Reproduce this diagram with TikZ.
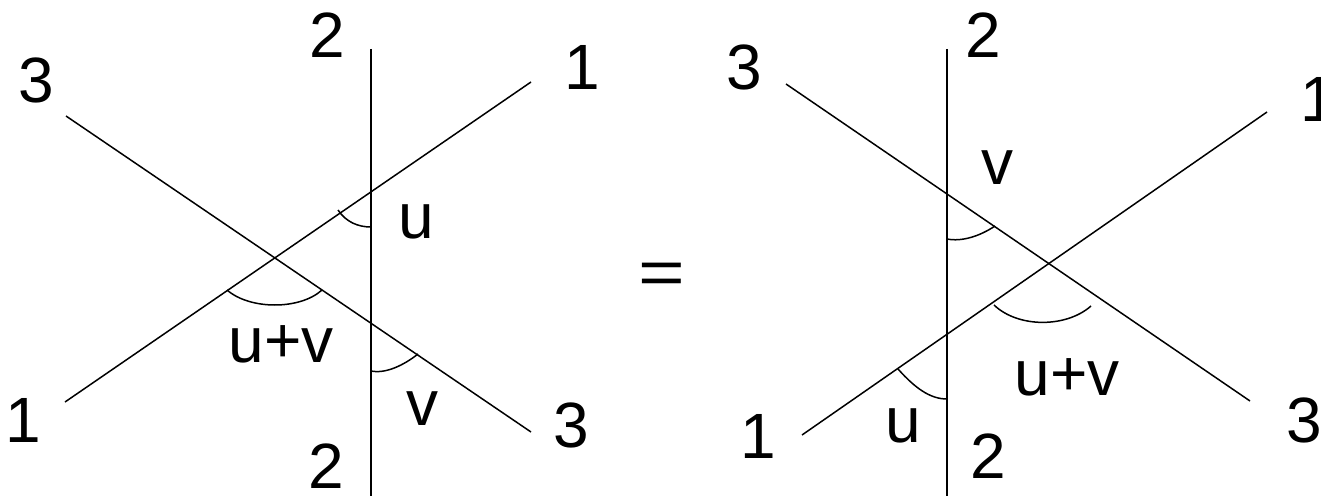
\documentclass[tikz,border=0pt]{standalone}
\usepackage{fontspec}
\setmainfont{Liberation Sans}
\begin{document}
\begin{tikzpicture}[x=1pt,y=1pt,
  ln/.style={line width=1.5pt},
  ang/.style={line width=1.5pt},
  lbl/.style={inner sep=0pt,anchor=base,font=\fontsize{64}{76}\selectfont}]
\useasboundingbox (0,0) rectangle (1321,496);
% ---------- left diagram ----------
\coordinate (LvT) at (371,447);
\coordinate (LvB) at (371,0);
\coordinate (L1a) at (65,94);
\coordinate (L1b) at (531,414);
\coordinate (L3a) at (66,380);
\coordinate (L3b) at (531,64);
\draw[ln] (LvT) -- (LvB);
\draw[ln] (L1a) -- (L1b);
\draw[ln] (L3a) -- (L3b);
% angles
\draw[ang] (338,286) .. controls (346,274) and (358,269) .. (371,269);
\draw[ang] (227,206) .. controls (250,186) and (300,186) .. (322,206);
\draw[ang] (371,125) .. controls (386,122) and (404,131) .. (418,142);
% labels
\node[lbl] (l2t) at (327,438) {2};
\node[lbl] (l3t) at (36,393) {3};
\node[lbl] (l1t) at (582,406) {1};
\node[lbl] (l1b) at (23,54) {1};
\node[lbl] (l3b) at (571,49) {3};
\node[lbl] (l2b) at (326,8) {2};
\node[lbl] (lu) at (416,258) {u};
\node[lbl] (luv) at (281,134) {u+v};
\node[lbl] (lv) at (422,71) {v};
% equals
\node[inner sep=0pt,xscale=1.25,font=\fontsize{64}{76}\selectfont] (eq) at (661.5,217.5) {=};
% ---------- right diagram ----------
\coordinate (RvT) at (947,447);
\coordinate (RvB) at (947,0);
\coordinate (R3a) at (786,412);
\coordinate (R3b) at (1250,95);
\coordinate (R1a) at (802,61);
\coordinate (R1b) at (1267,384);
\draw[ln] (RvT) -- (RvB);
\draw[ln] (R3a) -- (R3b);
\draw[ln] (R1a) -- (R1b);
% angles
\draw[ang] (947,257) .. controls (962,254) and (980,260) .. (995,270);
\draw[ang] (994,191) .. controls (1018,168) and (1066,168) .. (1091,190);
\draw[ang] (898,127) .. controls (915,108) and (930,97) .. (947,97);
% labels
\node[lbl] (r3t) at (744,406) {3};
\node[lbl] (r2t) at (983,438) {2};
\node[lbl] (r1t) at (1318,374) {1};
\node[lbl] (rv) at (997,311) {v};
\node[lbl] (ruv) at (1067,101) {u+v};
\node[lbl] (ru) at (903,54) {u};
\node[lbl] (r1b) at (758,38) {1};
\node[lbl] (r2b) at (988,18) {2};
\node[lbl] (r3b) at (1304,54) {3};
\end{tikzpicture}
\end{document}
